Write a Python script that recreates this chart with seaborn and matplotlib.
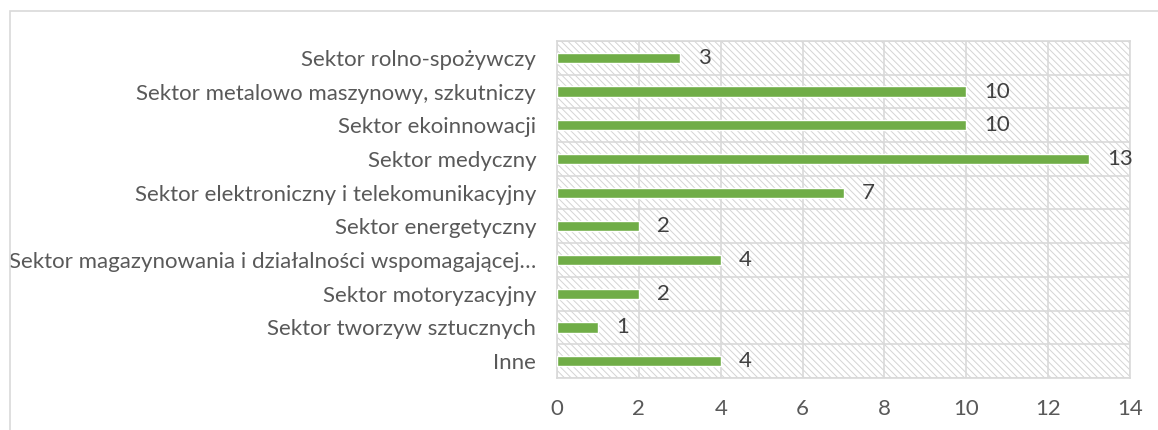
import matplotlib
matplotlib.use("Agg")
import matplotlib.pyplot as plt
import matplotlib.patches as mpatches
import seaborn as sns
import pandas as pd
import numpy as np

categories = [
    "Sektor rolno-spożywczy",
    "Sektor metalowo maszynowy, szkutniczy",
    "Sektor ekoinnowacji",
    "Sektor medyczny",
    "Sektor elektroniczny i telekomunikacyjny",
    "Sektor energetyczny",
    "Sektor magazynowania i działalności wspomagającej…",
    "Sektor motoryzacyjny",
    "Sektor tworzyw sztucznych",
    "Inne",
]
values = [3, 10, 10, 13, 7, 2, 4, 2, 1, 4]
x_ticks = [0, 2, 4, 6, 8, 10, 12, 14]

sns.set_theme(style="white")
plt.rcParams["font.family"] = ["Lato", "DejaVu Sans"]
plt.rcParams["hatch.linewidth"] = 0.7
plt.rcParams["hatch.color"] = "#D4D4D4"

W, H = 1158, 430
fig = plt.figure(figsize=(W / 100, H / 100), dpi=100)
ax = fig.add_axes([557 / W, 1 - 378 / H, (1130 - 557) / W, (378 - 41) / H])

# figure frame (top & left visible)
fig.patches.append(mpatches.Rectangle((10 / W, -0.1), 1.2, (H - 11) / H + 0.1,
                                      transform=fig.transFigure, fill=False,
                                      edgecolor="#D9D9D9", linewidth=1.2, zorder=0))

# hatched background
ax.add_patch(mpatches.Rectangle((0, 0), 1, 1, transform=ax.transAxes,
                                facecolor="white", edgecolor="#D4D4D4",
                                hatch="\\\\\\\\\\", linewidth=0, zorder=0))

df = pd.DataFrame({"cat": categories, "val": values})
sns.barplot(data=df, x="val", y="cat", orient="h", color="#70AD47",
            saturation=1, width=0.3, ax=ax, zorder=3)

txt = "#404040"
for c in ax.containers:
    ax.bar_label(c, labels=[str(v) for v in values], padding=13,
                 fontsize=16, color=txt)

ax.set_xlim(0, 14)
ax.set_ylim(len(categories) - 0.5, -0.5)
ax.set_xticks(x_ticks)
ax.set_xticklabels([str(t) for t in x_ticks])
ax.set_xlabel("")
ax.set_ylabel("")
ax.set_yticks(range(len(categories)))
ax.set_yticklabels(categories)
ax.set_yticks(np.arange(-0.5, len(categories), 1), minor=True)

ax.tick_params(axis="x", length=0, pad=15, labelsize=16, labelcolor="#595959")
ax.tick_params(axis="y", which="major", length=0, pad=15, labelsize=16, labelcolor="#595959")
ax.tick_params(axis="y", which="minor", length=5, width=1.2, color="#D9D9D9")

ax.grid(axis="x", which="major", color="#D9D9D9", linewidth=1.2, zorder=1)
ax.grid(axis="y", which="minor", color="#D9D9D9", linewidth=1.2, zorder=1)
ax.grid(axis="y", which="major", visible=False)
ax.set_axisbelow(True)
for s in ax.spines.values():
    s.set_color("#D9D9D9")
    s.set_linewidth(1.2)

fig.savefig("out.png", dpi=100)
